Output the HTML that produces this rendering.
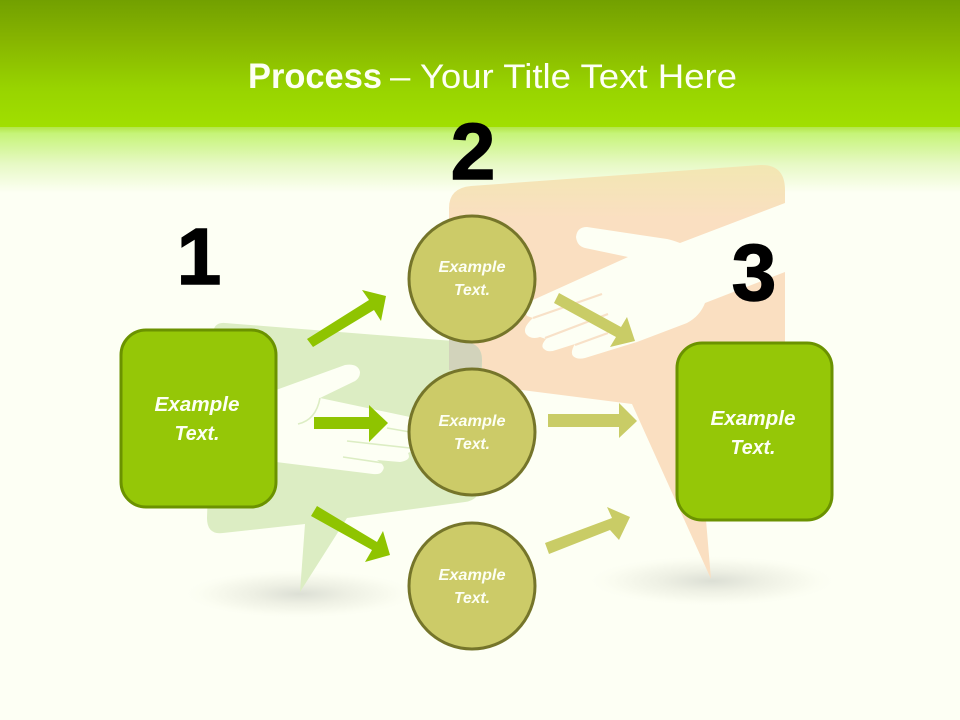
<!DOCTYPE html>
<html>
<head>
<meta charset="utf-8">
<style>
html,body{margin:0;padding:0;background:#fdfff4;width:960px;height:720px;overflow:hidden}
svg{display:block}
text{font-family:"Liberation Sans",sans-serif}
.t{font-style:italic;font-weight:bold;fill:#fdfff4;text-anchor:middle}
.n{font-weight:bold;fill:#000;stroke:#000;stroke-width:1.5;font-size:80px;text-anchor:middle}
</style>
</head>
<body>
<svg width="960" height="720" viewBox="0 0 960 720" xmlns="http://www.w3.org/2000/svg">
<defs>
<linearGradient id="h" x1="0" y1="0" x2="0" y2="1">
<stop offset="0" stop-color="#72a000"/><stop offset="0.32" stop-color="#87b500"/><stop offset="0.7" stop-color="#98d400"/><stop offset="1" stop-color="#a1df00"/>
</linearGradient>
<linearGradient id="f" x1="0" y1="0" x2="0" y2="1">
<stop offset="0" stop-color="#b4e648"/><stop offset="0.1" stop-color="#c6f479"/><stop offset="0.55" stop-color="#e6f9c3"/><stop offset="1" stop-color="#fdfff4"/>
</linearGradient>
<linearGradient id="o" gradientUnits="userSpaceOnUse" x1="0" y1="165" x2="0" y2="218">
<stop offset="0" stop-color="#f2e7b2"/><stop offset="1" stop-color="#fadfc1"/>
</linearGradient>
<radialGradient id="s">
<stop offset="0" stop-color="#dcdfd5"/><stop offset="0.4" stop-color="#eef0e4"/><stop offset="0.75" stop-color="#f9fbef"/><stop offset="1" stop-color="#fdfff4" stop-opacity="0"/>
</radialGradient>
</defs>
<rect width="960" height="720" fill="#fdfff4"/>
<rect width="960" height="127" fill="url(#h)"/>
<rect y="127" width="960" height="66" fill="url(#f)"/>

<ellipse cx="300" cy="594" rx="120" ry="25" fill="url(#s)"/>
<ellipse cx="712" cy="581" rx="128" ry="26" fill="url(#s)"/>

<!-- orange bubble -->
<path d="M471 186 L760 165 Q785 164 785 190 L785 440 L706 520 L711 579 L632 404 L482 385 L449 375 L449 208 Q449 188 471 186Z" fill="url(#o)"/>
<!-- orange hand -->
<path d="M785 203 L680 243 Q672 240 667 239 L587 227 Q577 227 576 237 Q577 246 585 248 L628 257 L533 300 Q522 306 527 316 L533 318 Q522 328 526 334 Q531 340 540 337 L546 339 Q540 346 544 349 Q548 353 556 350 L575 344 Q570 352 573 356 Q577 360 585 358 L637 342 L687 323 Q700 316 705 303 L785 272Z" fill="#fdfff4"/>
<g stroke="#f8e1c8" stroke-width="2.2" fill="none">
<line x1="602" y1="294" x2="533" y2="318"/>
<line x1="608" y1="314" x2="545" y2="338"/>
<line x1="608" y1="333" x2="575" y2="345"/>
</g>

<!-- green bubble -->
<path d="M225 323 L466 342 Q482 344 482 360 L480 485 Q480 500 465 502 L347 518 L300 592 L305 524 L223 533 Q207 535 207 518 L213 335 Q213 322 225 323Z" fill="#dcedc3"/>
<path d="M449 339.500 L466 342 Q482 344 482 360 L481.500 370 L449 370Z" fill="#d2d3bb"/>
<!-- green hand -->
<path d="M276 390 L345 365 Q358 363 360 372 Q360 379 353 382 L320 398 L410 417 L425 445 L408 453 Q412 460 400 462 L377 460 Q386 466 383 470 Q381 475 373 474 L276 462Z" fill="#fdfff4"/>
<path d="M298 424 Q316 420 320 398" stroke="#dcedc3" stroke-width="1.6" fill="none"/>
<g stroke="#dcedc3" stroke-width="1.6" fill="none">
<line x1="387" y1="428" x2="410" y2="432"/>
<line x1="347" y1="441" x2="410" y2="448"/>
<line x1="343" y1="457" x2="383" y2="463"/>
</g>

<!-- green arrows -->
<g fill="#8fc400">
<polygon points="307,339 313,347 374,310 381,321 386,296 362,290 369,300"/>
<polygon points="314,417 369,417 369,405 388,423 369,442 369,429 314,429"/>
<polygon points="317,506 311,516 372,550 365,562 390,555 383,531 377,542"/>
</g>
<!-- olive arrows -->
<g fill="#c9cc66">
<polygon points="559,293 554,303 616,337 610,347 635,341 627,317 621,327"/>
<polygon points="548,414 619,414 619,403 637,421 619,438 619,427 548,427"/>
<polygon points="545,543 549,554 610,530 619,540 630,517 607,507 612,518"/>
</g>

<!-- boxes -->
<rect x="121" y="330" width="155" height="177" rx="25" fill="#95c707" stroke="#6b9200" stroke-width="3"/>
<rect x="677" y="343" width="155" height="177" rx="25" fill="#95c707" stroke="#6b9200" stroke-width="3"/>

<!-- circles -->
<g fill="#cccb68" stroke="#75752a" stroke-width="3">
<circle cx="472" cy="279" r="63"/>
<circle cx="472" cy="432" r="63"/>
<circle cx="472" cy="586" r="63"/>
</g>

<!-- labels -->
<text x="248" y="88" font-size="35" font-weight="bold" fill="#fdfff4" textLength="134" lengthAdjust="spacingAndGlyphs">Process</text>
<text x="390" y="88" font-size="34" fill="#fdfff4" textLength="347" lengthAdjust="spacingAndGlyphs">– Your Title Text Here</text>

<text class="n" x="199" y="284">1</text>
<text class="n" x="473" y="179">2</text>
<text class="n" x="754" y="300">3</text>

<text class="t" x="197" y="411" font-size="20" textLength="85" lengthAdjust="spacingAndGlyphs">Example</text>
<text class="t" x="197" y="440" font-size="20" textLength="45" lengthAdjust="spacingAndGlyphs">Text.</text>
<text class="t" x="753" y="425" font-size="20" textLength="85" lengthAdjust="spacingAndGlyphs">Example</text>
<text class="t" x="753" y="454" font-size="20" textLength="45" lengthAdjust="spacingAndGlyphs">Text.</text>

<g font-size="16">
<text class="t" x="472" y="272" textLength="67" lengthAdjust="spacingAndGlyphs">Example</text>
<text class="t" x="472" y="295" textLength="36" lengthAdjust="spacingAndGlyphs">Text.</text>
<text class="t" x="472" y="426" textLength="67" lengthAdjust="spacingAndGlyphs">Example</text>
<text class="t" x="472" y="449" textLength="36" lengthAdjust="spacingAndGlyphs">Text.</text>
<text class="t" x="472" y="580" textLength="67" lengthAdjust="spacingAndGlyphs">Example</text>
<text class="t" x="472" y="603" textLength="36" lengthAdjust="spacingAndGlyphs">Text.</text>
</g>
</svg>
</body>
</html>
